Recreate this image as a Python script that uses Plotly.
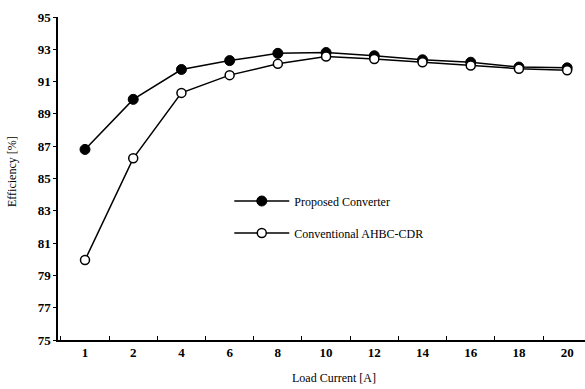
import plotly.graph_objects as go

categories = ["1", "2", "4", "6", "8", "10", "12", "14", "16", "18", "20"]
proposed = [86.8, 89.9, 91.75, 92.3, 92.75, 92.8, 92.6, 92.35, 92.2, 91.9, 91.85]
conventional = [79.95, 86.25, 90.3, 91.4, 92.1, 92.55, 92.4, 92.2, 92.0, 91.8, 91.7]
y_ticks = [75, 77, 79, 81, 83, 85, 87, 89, 91, 93, 95]

xpos = list(range(len(categories)))
FONT = "Liberation Serif"

fig = go.Figure()
fig.add_trace(go.Scatter(
    x=xpos, y=proposed, mode="lines+markers", name="Proposed Converter",
    line=dict(color="black", width=1.5),
    marker=dict(symbol="circle", size=10, color="black", line=dict(color="black", width=1)),
    legend="legend",
))
fig.add_trace(go.Scatter(
    x=xpos, y=conventional, mode="lines+markers", name="Conventional AHBC-CDR",
    line=dict(color="black", width=1.5),
    marker=dict(symbol="circle", size=9, color="white", line=dict(color="black", width=1.5)),
    legend="legend2",
))

leg_common = dict(
    font=dict(family=FONT, size=12, color="black"),
    bgcolor="rgba(0,0,0,0)", itemwidth=55, xanchor="left", yanchor="middle",
)

fig.update_layout(
    width=585, height=389,
    margin=dict(l=58, r=0, t=17, b=49),
    paper_bgcolor="white", plot_bgcolor="white",
    font=dict(family=FONT, color="black"),
    showlegend=True,
    legend=dict(x=0.325, y=(340 - 201) / 323, **leg_common),
    legend2=dict(x=0.325, y=(340 - 233) / 323, **leg_common),
    xaxis=dict(
        range=[-0.56, 10.37],
        tickmode="array", tickvals=xpos, ticktext=categories,
        ticks="", showgrid=False, zeroline=False,
        showline=True, linecolor="black", linewidth=1.5,
        tickfont=dict(family=FONT, size=13, color="black", weight="bold"),
        minor=dict(tickmode="linear", tick0=0.5, dtick=1, ticks="inside",
                   ticklen=4, tickcolor="black", tickwidth=1, showgrid=False),
    ),
    yaxis=dict(
        range=[75, 95],
        tickmode="array", tickvals=y_ticks,
        ticks="outside", ticklen=3, tickcolor="black", tickwidth=1,
        showgrid=False, zeroline=False,
        showline=True, linecolor="black", linewidth=1.5,
        tickfont=dict(family=FONT, size=13, color="black", weight="bold"),
    ),
    annotations=[
        dict(
            text="Load Current [A]", xref="paper", yref="paper",
            x=(334 - 58) / 527, y=-(378 - 340) / 323, xanchor="center", yanchor="middle",
            showarrow=False, font=dict(family=FONT, size=12, color="black"),
        ),
        dict(
            text="Efficiency [%]", xref="paper", yref="paper",
            x=-(58 - 12) / 527, y=(340 - 172) / 323, xanchor="center", yanchor="middle",
            textangle=-90, showarrow=False, font=dict(family=FONT, size=12, color="black"),
        ),
    ],
)

fig.write_html("out.html", config={"displayModeBar": False},
               post_script="document.body.style.margin='0';document.body.style.overflow='hidden';")
